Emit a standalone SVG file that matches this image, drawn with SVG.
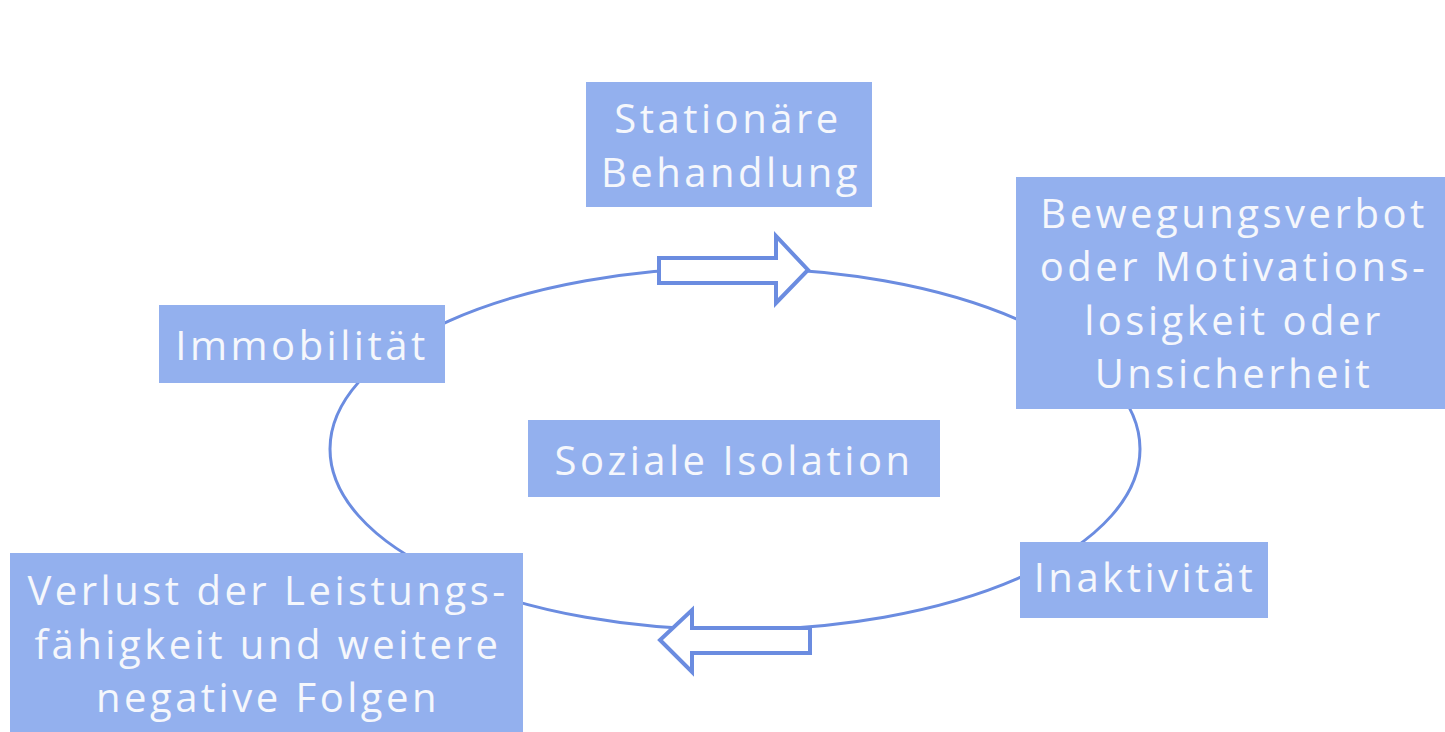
<svg xmlns="http://www.w3.org/2000/svg" width="1445" height="732" viewBox="0 0 1445 732">
<style>
.box{fill:#93b0ee}
.t{font-family:"Open Sans",Lato,"Liberation Sans",sans-serif;fill:#f5f7fc;font-size:40px;letter-spacing:3.5px;text-anchor:middle}
.ring{fill:none;stroke:#6b8ce0;stroke-width:3}
.arr{fill:#fff;stroke:#6b8ce0;stroke-width:4;stroke-linejoin:miter}
</style>
<rect width="1445" height="732" fill="#fff"/>
<g id="connectors">
<ellipse class="ring" cx="735" cy="449" rx="405" ry="181"/>
<polygon class="arr" points="659,258 776,258 776,236 808,270 776,303 776,283 659,283"/>
<polygon class="arr" points="810,628 692,628 692,610 660,640 692,672 692,653 810,653"/>
</g>
<g id="n-stationaer"><rect class="box" x="586" y="82" width="286" height="125"/><text class="t" x="728" y="133">Stationäre</text><text class="t" x="731" y="187">Behandlung</text></g>
<g id="n-bewegung"><rect class="box" x="1016" y="177" width="429" height="232"/><text class="t" x="1234" y="228">Bewegungsverbot</text><text class="t" x="1234" y="281">oder Motivations-</text><text class="t" x="1234" y="335">losigkeit oder</text><text class="t" x="1234" y="388">Unsicherheit</text></g>
<g id="n-immobil"><rect class="box" x="159" y="305" width="286" height="78"/><text class="t" x="302" y="360">Immobilität</text></g>
<g id="n-sozial"><rect class="box" x="528" y="420" width="412" height="77"/><text class="t" x="734" y="475">Soziale Isolation</text></g>
<g id="n-inaktiv"><rect class="box" x="1020" y="542" width="248" height="76"/><text class="t" x="1145" y="592">Inaktivität</text></g>
<g id="n-verlust"><rect class="box" x="10" y="553" width="513" height="179"/><text class="t" x="268" y="605">Verlust der Leistungs-</text><text class="t" x="268" y="659">fähigkeit und weitere</text><text class="t" x="268" y="712">negative Folgen</text></g>
</svg>
